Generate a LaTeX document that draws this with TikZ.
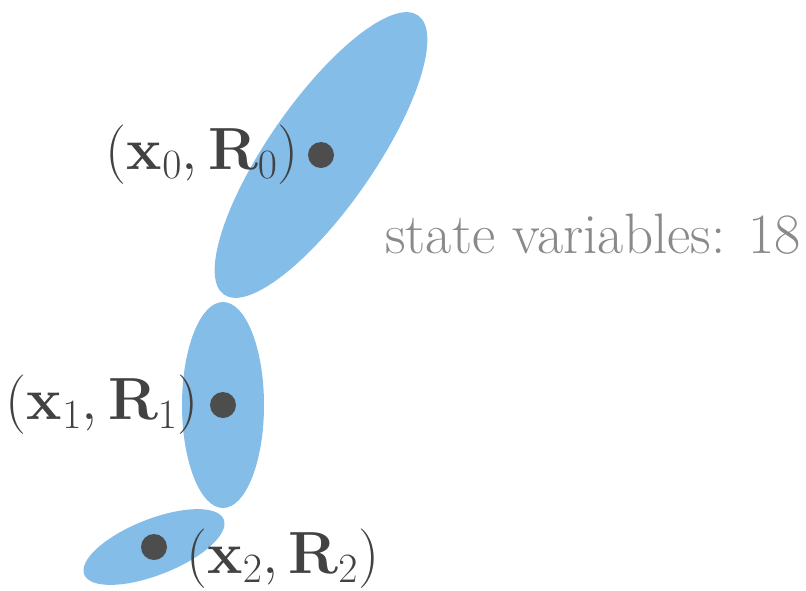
\RequirePackage{fix-cm}
\documentclass[tikz,border=0pt]{standalone}
\usepackage{amsmath}
\usepackage{xcolor}
\usepackage{tikz}
\usetikzlibrary{positioning, shapes.geometric}

\definecolor{blobblue}{RGB}{133,189,233}
\definecolor{dotgray}{RGB}{77,77,77}
\definecolor{textgray}{RGB}{138,138,138}

\begin{document}
\begin{tikzpicture}[
    x=1pt, y=-1pt,
    blob/.style={ellipse, fill=blobblue, inner sep=0pt},
    pose/.style={circle, fill=dotgray, minimum size=26pt, inner sep=0pt},
    lbl/.style={inner sep=0pt, text=dotgray!85!black,
                font=\fontsize{59.5}{64}\selectfont},
    note/.style={inner sep=0pt, text=textgray,
                 font=\fontsize{57}{62}\selectfont},
]
    \useasboundingbox (0,0) rectangle (806,590);

    % covariance ellipses, one per pose
    \foreach \n/\x/\y/\a/\b/\r in {0/321/155/170/53/55.2,
                                   1/223/405/103/41/90,
                                   2/154/547/75/28/21.5}
        \node[blob, minimum width=2*\a pt, minimum height=2*\b pt,
              rotate=\r] (e\n) at (\x,\y) {};

    \foreach \n in {0,1,2}
        \node[pose] (p\n) at (e\n.center) {};

    \node[lbl, left=9pt of p0] (l0) {$(\mathbf{x}_0,\mathbf{R}_0)$};
    \node[lbl, left=11pt of p1] (l1) {$(\mathbf{x}_1,\mathbf{R}_1)$};
    \node[lbl, right=19pt of p2, yshift=-12pt] (l2) {$(\mathbf{x}_2,\mathbf{R}_2)$};

    \node[note, anchor=base west] (sv) at (385,253) {state variables: 18};
\end{tikzpicture}
\end{document}
